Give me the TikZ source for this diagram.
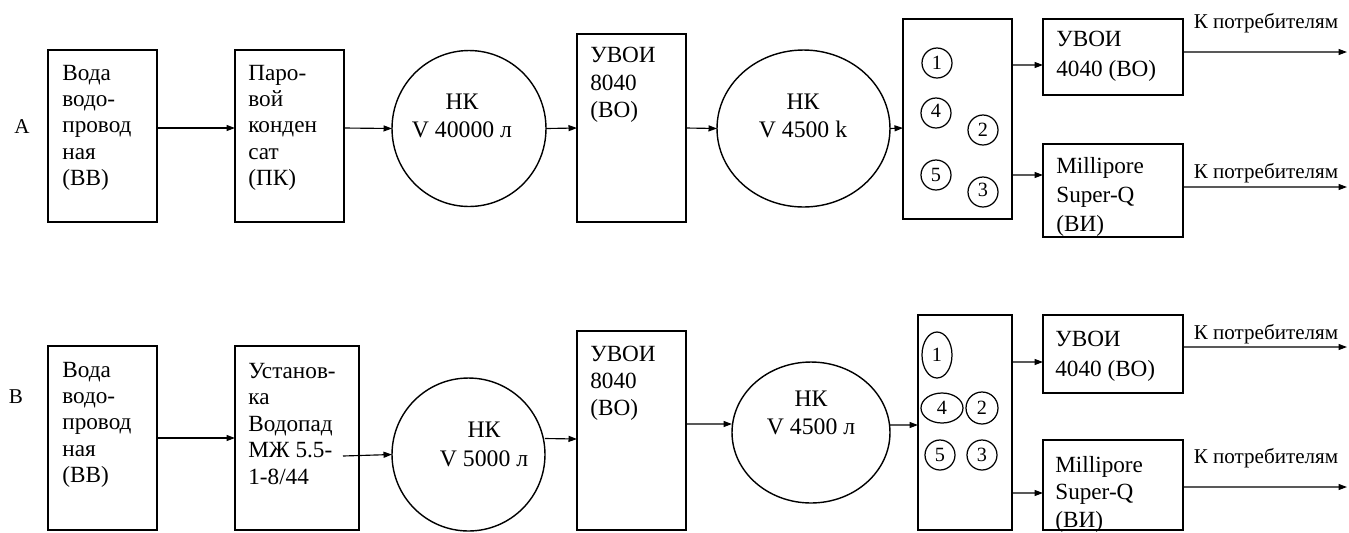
\documentclass[tikz,border=0pt]{standalone}
\usepackage{fontspec}
\setmainfont{Liberation Serif}
\usetikzlibrary{arrows.meta,shapes.geometric}
\begin{document}
\begin{tikzpicture}[x=0.02cm,y=-0.02cm,
  box/.style={draw,rectangle,line width=0.8pt,inner sep=0pt,outer sep=0pt},
  tank/.style={draw,ellipse,line width=0.8pt,inner sep=0pt,outer sep=0pt},
  sc/.style={draw,ellipse,line width=0.7pt,inner sep=0pt,outer sep=0pt,font=\fontsize{11.5}{12}\selectfont},
  arr/.style={line width=0.65pt,-{Triangle[length=0.17cm,width=0.12cm]}},
  txt/.style={anchor=north west,align=left,inner sep=0pt,font=\fontsize{13.2}{14.9}\selectfont},
  txtb/.style={anchor=north west,align=left,inner sep=0pt,font=\fontsize{13.2}{15.9}\selectfont},
  ctxt/.style={anchor=north,align=center,inner sep=0pt,font=\fontsize{13.5}{15.9}\selectfont},
  lbl/.style={anchor=base,inner sep=0pt,font=\fontsize{12}{14}\selectfont}]
\useasboundingbox (0,0) rectangle (1349,532);

% ---------- Row A ----------
\node[lbl] (la) at (22,133) {А};
\node[box,minimum width=2.18cm,minimum height=3.44cm] (a1) at (102.5,136) {};
\node[box,minimum width=2.18cm,minimum height=3.44cm] (a2) at (289.5,136) {};
\node[tank,minimum width=3.08cm,minimum height=3.12cm] (ac1) at (469,128.5) {};
\node[box,minimum width=2.18cm,minimum height=3.76cm] (a3) at (631.5,128) {};
\node[tank,minimum width=3.46cm,minimum height=3.14cm] (ac2) at (803.5,128.5) {};
\node[box,minimum width=2.18cm,minimum height=4.0cm] (a4) at (957.5,119) {};
\node[box,minimum width=2.8cm,minimum height=1.52cm] (a5) at (1113,57) {};
\node[box,minimum width=2.8cm,minimum height=1.86cm] (a6) at (1113,190.5) {};

\node[txt] (a1t) at (62,65) {Вода\\водо-\\провод\\ная\\(ВВ)};
\node[txt] (a2t) at (248,65) {Паро-\\вой\\конден\\сат\\(ПК)};
\node[ctxt] (ac1t) at (462,94) {НК\\V 40000 л};
\node[txtb,font=\fontsize{13.2}{15.7}\selectfont] (a3t) at (590,47) {УВОИ\\8040\\(ВО)};
\node[ctxt] (ac2t) at (803,94) {НК\\V 4500 k};
\node[txtb,font=\fontsize{13.2}{17.2}\selectfont] (a5t) at (1056,31) {УВОИ\\4040 (ВО)};
\node[txtb,font=\fontsize{13.2}{16.5}\selectfont] (a6t) at (1056,157) {Millipore\\Super-Q\\(ВИ)};

\node[sc,minimum size=0.6cm] (an1) at (937,63) {1};
\node[sc,minimum size=0.6cm] (an4) at (936,113) {\raisebox{3pt}{4}};
\node[sc,minimum size=0.6cm] (an2) at (983,130) {2};
\node[sc,minimum size=0.6cm] (an5) at (936,175) {\raisebox{-2pt}{5}};
\node[sc,minimum size=0.6cm] (an3) at (983,192) {\raisebox{3pt}{3}};

\coordinate (ao1) at (1347,52);
\coordinate (ao2) at (1347,187);
\node[lbl] (ak1) at (1266,28) {К потребителям};
\node[lbl] (ak2) at (1266,178) {К потребителям};

\draw[arr] ([yshift=0.16cm]a1.east) -- ([yshift=0.16cm]a2.west);
\draw[arr] ([yshift=0.16cm]a2.east) -- (ac1.west);
\draw[arr] (ac1.east) -- (a3.west);
\draw[arr] (a3.east) -- (ac2.west);
\draw[arr] (ac2.east) -- ([yshift=-0.18cm]a4.west);
\draw[arr] ([yshift=1.08cm]a4.east) -- ([yshift=-0.16cm]a5.west);
\draw[arr] ([yshift=-1.12cm]a4.east) -- ([yshift=0.31cm]a6.west);
\draw[arr] ([yshift=0.1cm]a5.east) -- (ao1);
\draw[arr] ([yshift=0.07cm]a6.east) -- (ao2);

% ---------- Row B ----------
\node[lbl] (lb) at (16,403) {В};
\node[box,minimum width=2.18cm,minimum height=3.68cm] (b1) at (102.5,438) {};
\node[box,minimum width=2.48cm,minimum height=3.68cm] (b2) at (297,438) {};
\node[tank,minimum width=3.06cm,minimum height=3.06cm] (bc1) at (468.5,454.5) {};
\node[box,minimum width=2.18cm,minimum height=3.98cm] (b3) at (631.5,430.5) {};
\node[tank,minimum width=3.16cm,minimum height=2.82cm] (bc2) at (811,432.5) {};
\node[box,minimum width=1.88cm,minimum height=4.3cm] (b4) at (965,422.5) {};
\node[box,minimum width=2.8cm,minimum height=1.56cm] (b5) at (1113,354) {};
\node[box,minimum width=2.8cm,minimum height=1.8cm] (b6) at (1113,485) {};

\node[txt] (b1t) at (62,362) {Вода\\водо-\\провод\\ная\\(ВВ)};
\node[txt,font=\fontsize{13.2}{15.1}\selectfont] (b2t) at (248,362.5) {Установ-\\ка\\Водопад\\МЖ 5.5-\\1-8/44};
\node[ctxt,font=\fontsize{13.5}{16.5}\selectfont] (bc1t) at (484,422) {НК\\V 5000 л};
\node[txtb,font=\fontsize{13.2}{15.3}\selectfont] (b3t) at (590,346) {УВОИ\\8040\\(ВО)};
\node[ctxt] (bc2t) at (811,391) {НК\\V 4500 л};
\node[txtb,font=\fontsize{13.2}{17.2}\selectfont] (b5t) at (1055,331) {УВОИ\\4040 (ВО)};
\node[txtb,font=\fontsize{13.2}{15.6}\selectfont] (b6t) at (1055,456) {Millipore\\Super-Q\\(ВИ)};

\node[sc,minimum width=0.6cm,minimum height=0.92cm] (bn1) at (937,355) {1};
\node[sc,minimum width=0.84cm,minimum height=0.6cm] (bn4) at (942,408) {4};
\node[sc,minimum size=0.64cm] (bn2) at (982,408) {2};
\node[sc,minimum size=0.6cm] (bn5) at (940,455) {5};
\node[sc,minimum size=0.6cm] (bn3) at (982,455) {3};

\coordinate (bo1) at (1347,347);
\coordinate (bo2) at (1347,487);
\node[lbl] (bk1) at (1266,339) {К потребителям};
\node[lbl] (bk2) at (1266,463) {К потребителям};

\draw[arr] (b1.east) -- (b2.west);
\draw[arr] ([xshift=-0.32cm,yshift=-0.36cm]b2.east) -- (bc1.west);
\draw[arr] ([yshift=0.32cm]bc1.east) -- ([yshift=-0.17cm]b3.west);
\draw[arr] ([yshift=0.13cm]b3.east) -- ([yshift=0.17cm]bc2.west);
\draw[arr] ([yshift=0.15cm]bc2.east) -- ([yshift=-0.05cm]b4.west);
\draw[arr] ([yshift=1.21cm]b4.east) -- ([yshift=-0.16cm]b5.west);
\draw[arr] ([yshift=-1.41cm]b4.east) -- ([yshift=-0.16cm]b6.west);
\draw[arr] ([yshift=0.14cm]b5.east) -- (bo1);
\draw[arr] ([yshift=-0.04cm]b6.east) -- (bo2);
\end{tikzpicture}
\end{document}
